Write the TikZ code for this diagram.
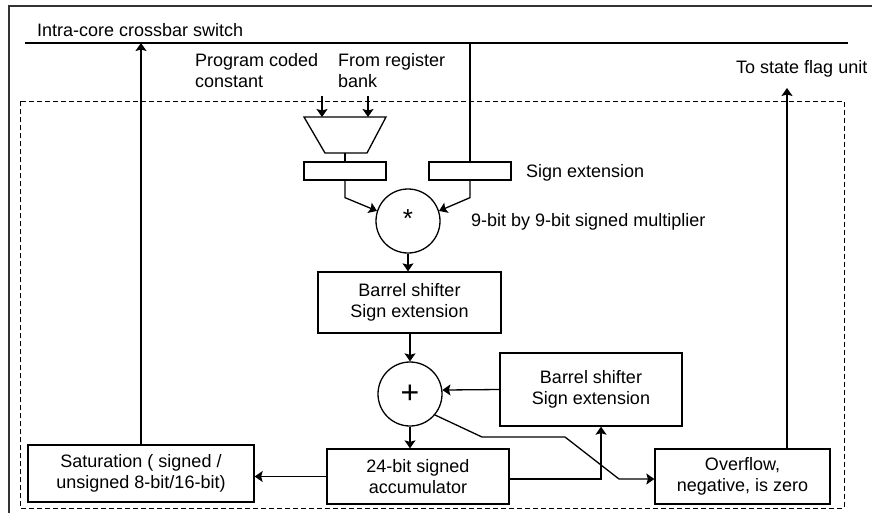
\documentclass[tikz,border=0pt]{standalone}
\usepackage{fontspec}
\setmainfont{Liberation Sans}
\usetikzlibrary{arrows.meta,calc}

\begin{document}
\begin{tikzpicture}[x=1pt,y=-1pt,
  every node/.style={font=\fontsize{18}{21.5}\selectfont, inner sep=0pt},
  wire/.style={line width=1.3pt},
  flow/.style={wire, -{Stealth[length=8pt,width=11pt,inset=1.5pt]}},
  box/.style={draw, line width=1.3pt, align=center},
  opcircle/.style={draw, circle, line width=1.3pt, minimum size=64pt},
  lbl/.style={anchor=base west},
  lbltwo/.style={anchor=north west, align=left},
]
\useasboundingbox (0,0) rectangle (872,512);

% outer frame and dashed datapath boundary
\draw[line width=1.1pt, black!80] (9,520) -- (9,6) -- (880,6);
\draw[line width=1pt, dash pattern=on 5pt off 3pt] (20,101) rectangle (844,508);

% crossbar bus
\coordinate (xbL) at (25,43);
\coordinate (xbR) at (848,43);
\draw[line width=1.1pt] (xbL) -- (xbR);
\node[lbl] (xbtext) at (37,36) {Intra-core crossbar switch};

% operand selection multiplexer
\coordinate (muxTL) at (304,117);
\coordinate (muxTR) at (386,117);
\coordinate (muxBR) at (367,153);
\coordinate (muxBL) at (325,153);
\coordinate (inA) at (322,117);
\coordinate (inB) at (368,117);
\coordinate (srcA) at (322,96);
\coordinate (srcB) at (368,96);
\draw[wire] (muxTL) -- (muxTR) -- (muxBR) -- (muxBL) -- cycle;
\draw[flow] (srcA) -- (inA);
\draw[flow] (srcB) -- (inB);
\node[lbltwo] (pcc) at (195,53) {Program coded\\constant};
\node[lbltwo] (frb) at (338,53) {From register\\bank};

% sign extension registers
\node[box, minimum width=82pt, minimum height=18pt] (rectL) at (345,171) {};
\node[box, minimum width=82pt, minimum height=18pt] (rectR) at (470,171) {};
\node[lbl] (sxlbl) at (526,177) {Sign extension};
\draw[wire] (rectL.north |- muxBL) -- (rectL.north);
\draw[wire] (rectR.north) -- (rectR.north |- xbL);

% multiplier
\node[opcircle, font=\fontsize{26}{26}\selectfont] (mul) at (408,221) {\raisebox{5pt}{*}};
\node[lbl] (mullbl) at (471,226) {9-bit by 9-bit signed multiplier};
\draw[flow] (rectL.south) -- ++(0,17) -- (mul.162);
\draw[flow] (rectR.south) -- ++(0,17) -- (mul.18);

% barrel shifters
\node[box, minimum width=183pt, minimum height=61pt] (bar1) at (409.5,302.5) {Barrel shifter\\Sign extension};
\node[box, minimum width=182pt, minimum height=73pt] (bar2) at (591,389.5) {Barrel shifter\\Sign extension};
\draw[flow] (mul.south) -- (mul.south |- bar1.north);

% adder
\node[opcircle, font=\fontsize{32}{32}\selectfont] (plus) at (410,394) {\raisebox{-2pt}{+}};
\draw[flow] (bar1.south -| plus.north) -- (plus.north);
\draw[flow] (bar2.west) -- (plus.7);

% accumulator, saturation, flags
\node[box, minimum width=182pt, minimum height=55pt] (acc) at (418,476.5) {24-bit signed\\accumulator};
\node[box, minimum width=226pt, minimum height=57pt] (sat) at (141,473.5) {Saturation ( signed /\\unsigned 8-bit/16-bit)};
\node[box, minimum width=175pt, minimum height=55pt] (ovf) at (742.5,476.5) {Overflow,\\negative, is zero};

\draw[flow] (plus.south) -- (plus.south |- acc.north);
\draw[flow] (acc.west |- sat.east) ++(0,3) -- ([yshift=-3pt]sat.east);
\coordinate (b2in) at ([xshift=10pt]bar2.south);
\draw[flow] ([yshift=-2.5pt]acc.east) -| (b2in);
\draw[flow] (plus.-40) -- (482,437) -- (565,437) -- (619,479) -- ([yshift=-2.5pt]ovf.west);

% outputs
\draw[flow] (sat.north) -- (sat.north |- xbL);
\coordinate (flagout) at (787,88);
\draw[flow] (ovf.north -| flagout) -- (flagout);
\node[lbl] (flaglbl) at (736,73) {To state flag unit};
\end{tikzpicture}
\end{document}
